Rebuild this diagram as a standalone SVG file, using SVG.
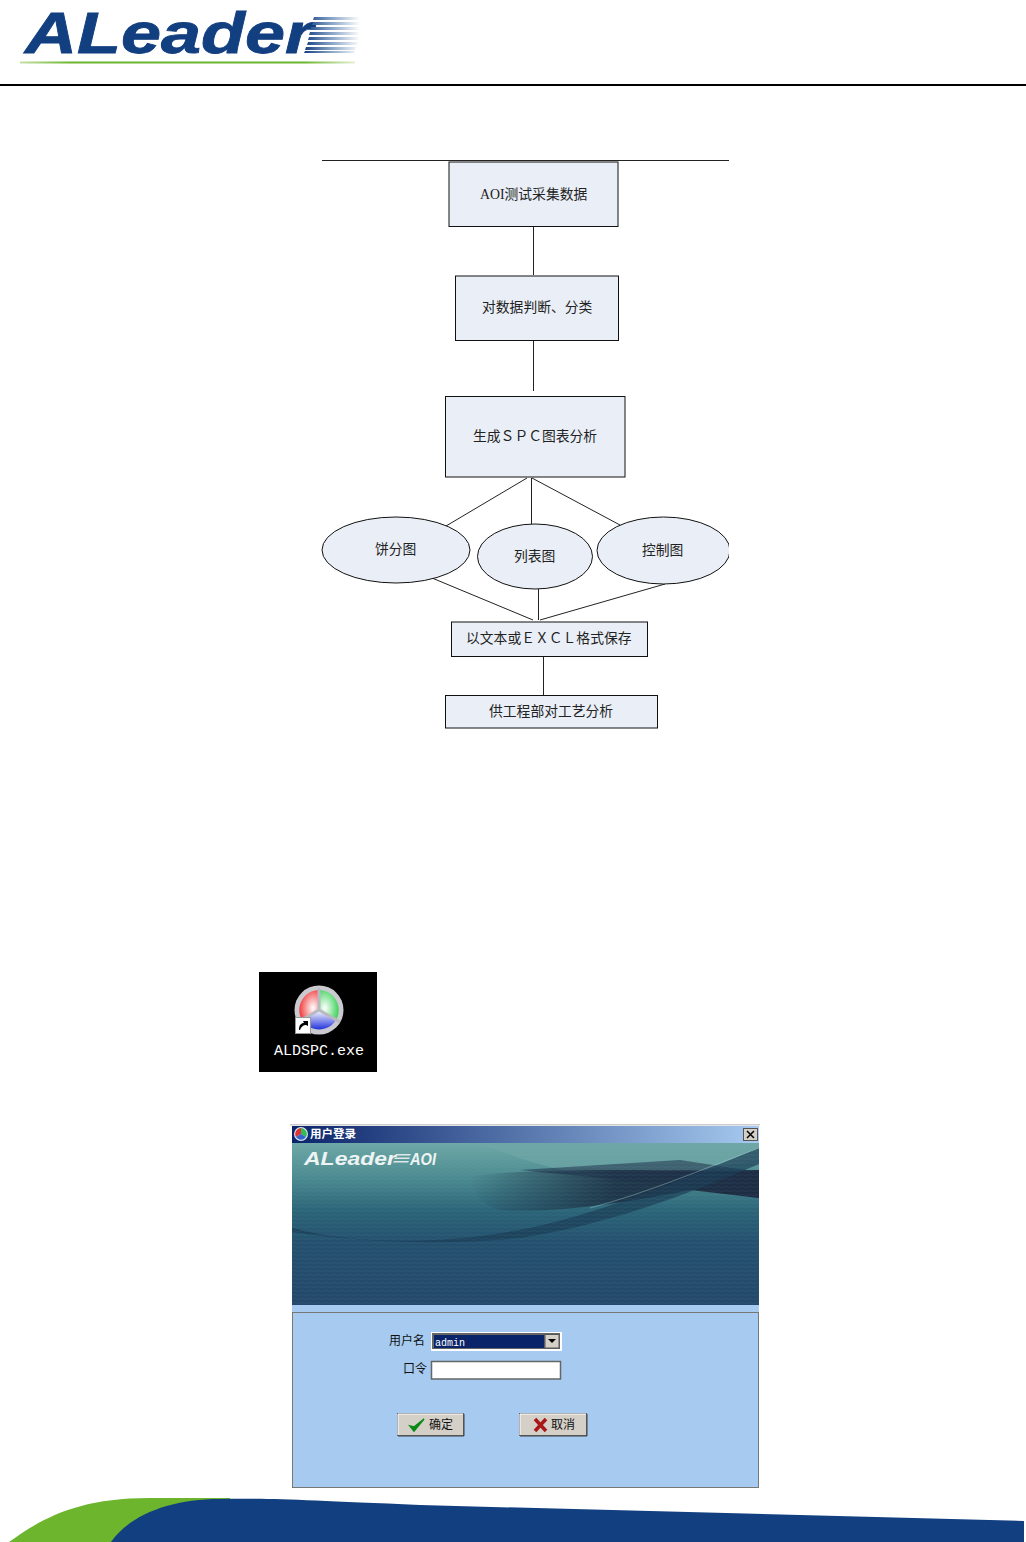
<svg xmlns="http://www.w3.org/2000/svg" width="1026" height="1542" viewBox="0 0 1026 1542">
<style>
.n{fill:#eaeff7;stroke:#111;stroke-width:1}
.c{fill:none;stroke:#222;stroke-width:1}
.t{font-family:"Liberation Serif","Noto Sans CJK SC",serif;font-size:13.8px;fill:#222}
.f{font-family:"Noto Sans CJK SC",sans-serif;font-size:12px;fill:#111}
.b{fill:#d4d0c8;stroke:#666;stroke-width:1}
.hi{fill:none;stroke:#fff;stroke-width:1}
.lo{fill:none;stroke:#404040;stroke-width:1}
</style>
<defs>
<linearGradient id="speed" x1="0" x2="1" y1="0" y2="0"><stop offset="0" stop-color="#123f80"/><stop offset="0.45" stop-color="#7f9cc2"/><stop offset="1" stop-color="#fff"/></linearGradient>
<linearGradient id="grn" x1="0" x2="1" y1="0" y2="0"><stop offset="0" stop-color="#c6e0a8"/><stop offset="0.15" stop-color="#6cb52d"/><stop offset="0.85" stop-color="#6cb52d"/><stop offset="1" stop-color="#e4f0d4"/></linearGradient>
<linearGradient id="title" x1="0" x2="1" y1="0" y2="0"><stop offset="0" stop-color="#0a246a"/><stop offset="1" stop-color="#a6caf0"/></linearGradient>
<linearGradient id="sky" x1="0" x2="0" y1="0" y2="1"><stop offset="0" stop-color="#6fa8a6"/><stop offset="0.22" stop-color="#4a8a90"/><stop offset="0.42" stop-color="#2b6478"/><stop offset="0.62" stop-color="#24506e"/><stop offset="1" stop-color="#24486a"/></linearGradient>
<linearGradient id="dark" x1="0" x2="1" y1="0" y2="0"><stop offset="0" stop-color="#1c3044" stop-opacity="0"/><stop offset="0.5" stop-color="#1c3044" stop-opacity=".9"/><stop offset="1" stop-color="#1d2a3e"/></linearGradient>
<radialGradient id="r" cx=".7" cy=".6" r=".8"><stop offset="0" stop-color="#fff"/><stop offset="1" stop-color="#e22"/></radialGradient>
<radialGradient id="g" cx=".3" cy=".6" r=".8"><stop offset="0" stop-color="#fff"/><stop offset="1" stop-color="#2c4"/></radialGradient>
<linearGradient id="bl" x1="0" x2="0" y1="0" y2="1"><stop offset="0" stop-color="#fff"/><stop offset="1" stop-color="#23d"/></linearGradient>
<pattern id="hatch" width="8" height="4" patternUnits="userSpaceOnUse"><path d="M0 3.500L8 2.500" stroke="#7fb0b8" stroke-opacity=".09" stroke-width="1"/></pattern>
<clipPath id="bannerClip"><rect x="292" y="1143" width="467" height="162"/></clipPath>
<clipPath id="ellClip"><rect x="590" y="510" width="139" height="80"/></clipPath>
</defs>
<rect width="1026" height="1542" fill="#fff"/>

<g id="header-logo">
<text x="25" y="53" font-family="Liberation Sans,sans-serif" font-weight="700" font-style="italic" font-size="58" fill="#123f80" stroke="#123f80" stroke-width=".8" textLength="288" lengthAdjust="spacingAndGlyphs">ALeader</text>
<path fill="url(#speed)" d="M314 17h46l-1 3h-46zM313 22h47l-1 3h-47zM311 27h49l-1 3h-49zM310 32h50l-1 3h-50zM309 37h50l-1 3h-50zM308 42h50l-1 3h-50zM306 47h50l-1 3h-50zM305 51h50l-1 2h-50z"/>
<rect x="20" y="61.500" width="335" height="2" fill="url(#grn)"/>
<rect x="0" y="84" width="1026" height="2" fill="#000"/>
</g>

<g id="connectors">
<path class="c" d="M322 160.500H729M533.500 226V275M533.500 340V391M527 478L446 526M531.500 478V524M532 478L620 525M432 578L533 620M538.500 589V620M665 584L540 620M543.500 656V695"/>
</g>

<g id="n1"><rect class="n" x="449" y="162" width="169" height="64.500"/><text class="t" x="480" y="199">AOI测试采集数据</text></g>
<g id="n2"><rect class="n" x="455.500" y="276" width="163" height="64.500"/><text class="t" x="482" y="312">对数据判断、分类</text></g>
<g id="n3"><rect class="n" x="445.500" y="396.500" width="179.500" height="80.500"/><text class="t" x="473" y="441">生成ＳＰＣ图表分析</text></g>
<g id="e1"><ellipse class="n" cx="396" cy="550" rx="74" ry="33"/><text class="t" x="375" y="554">饼分图</text></g>
<g id="e2"><ellipse class="n" cx="535" cy="556.500" rx="57.500" ry="32.500"/><text class="t" x="514" y="561">列表图</text></g>
<g id="e3"><ellipse class="n" cx="663.500" cy="550.500" rx="66.500" ry="33.500" clip-path="url(#ellClip)"/><text class="t" x="642" y="555">控制图</text></g>
<g id="n4"><rect class="n" x="451.500" y="622" width="196" height="34.500"/><text class="t" x="466" y="643">以文本或ＥＸＣＬ格式保存</text></g>
<g id="n5"><rect class="n" x="445.500" y="695.500" width="212" height="32.500"/><text class="t" x="489" y="716">供工程部对工艺分析</text></g>

<g id="app-icon">
<rect x="259" y="972" width="118" height="100" fill="#000"/>
<circle cx="319" cy="1010" r="24.500" fill="#c9c9cf"/>
<path fill="url(#r)" d="M319 1010V990A20 20 0 0 0 302 1020Z"/>
<path fill="url(#g)" d="M319 1010V990A20 20 0 0 1 336 1020Z"/>
<path fill="url(#bl)" d="M319 1010L336 1020A20 20 0 0 1 302 1020Z"/>
<path d="M319 988V1010L298 1022M319 1010L340 1022" fill="none" stroke="#b9b9c0" stroke-width="3"/>
<rect x="295.500" y="1017.500" width="15" height="16" fill="#fff" stroke="#999" stroke-width="1"/>
<path d="M299 1030C299 1025 301 1023 304 1023L303 1021H308V1026L306 1025C303 1025 301 1027 300 1030Z" fill="#000"/>
<text x="274" y="1055" font-family="Liberation Mono,monospace" font-size="15" fill="#fff" textLength="90" lengthAdjust="spacingAndGlyphs">ALDSPC.exe</text>
</g>

<g id="login-dialog">
<rect x="290" y="1124" width="470" height="1.500" fill="#ccc"/>
<rect x="292" y="1126" width="467" height="17" fill="url(#title)"/>
<circle cx="301" cy="1134" r="7" fill="#dfe3ee"/>
<path d="M301 1134V1128A6 6 0 0 0 296 1137Z" fill="#d33"/><path d="M301 1134V1128A6 6 0 0 1 306 1137Z" fill="#3b5"/><path d="M301 1134L306 1137A6 6 0 0 1 296 1137Z" fill="#36c"/>
<text x="310" y="1138" font-family="Noto Sans CJK SC,sans-serif" font-size="11.500" font-weight="700" fill="#fff">用户登录</text>
<rect x="743.500" y="1128.500" width="14" height="12" fill="#d4d0c8" stroke="#555"/>
<path d="M747 1131L754 1138M754 1131L747 1138" stroke="#000" stroke-width="1.500"/>
<rect x="292" y="1143" width="467" height="162" fill="url(#sky)"/>
<g clip-path="url(#bannerClip)">
<path d="M480 1143H759V1160C700 1172 640 1178 600 1176C560 1172 520 1160 480 1143Z" fill="#6fa6a6" opacity=".75"/>
<path d="M470 1176C560 1166 660 1172 759 1170V1198L690 1190C640 1200 560 1214 500 1210C480 1205 470 1190 470 1176Z" fill="url(#dark)"/>
<path d="M520 1170C600 1178 680 1184 759 1198L759 1172L680 1160L600 1165Z" fill="#1d3048" opacity=".55"/>
<path d="M292 1228C360 1246 450 1244 530 1228C610 1210 680 1180 759 1148V1164C680 1198 600 1226 520 1238C440 1246 360 1242 292 1232Z" fill="#1b3d56" opacity=".7"/>
<path d="M590 1208C650 1192 700 1170 759 1148" fill="none" stroke="#9cc" stroke-width="1" opacity=".45"/>
<path d="M292 1143H759V1305H292Z" fill="url(#hatch)"/>
</g>
<text x="304" y="1165" font-family="Liberation Sans,sans-serif" font-style="italic" font-weight="700" font-size="19" fill="#eef4f4" textLength="92" lengthAdjust="spacingAndGlyphs">ALeader</text>
<path fill="#dfe9e9" d="M396 1154h15l-1 1.500h-15zM395 1157.500h15l-1 1.500h-15zM394 1161h15l-1 1.500h-15z"/>
<text x="410" y="1165" font-family="Liberation Sans,sans-serif" font-style="italic" font-weight="700" font-size="16" fill="#eef4f4" textLength="26" lengthAdjust="spacingAndGlyphs">AOI</text>
<rect x="292" y="1305" width="467" height="7" fill="#a6caf0"/>
<rect x="292.500" y="1312.500" width="466" height="175" fill="#a6caf0" stroke="#777"/>
<text class="f" x="389" y="1345">用户名</text>
<rect x="431.500" y="1332.500" width="130" height="18" fill="#fff" stroke="#fff"/>
<rect x="432" y="1333" width="128" height="16" fill="#666"/>
<rect x="434" y="1335" width="110" height="13" fill="#0a246a"/>
<text x="435" y="1345.500" font-family="Liberation Mono,monospace" font-size="10" fill="#fff">admin</text>
<rect x="545" y="1334.500" width="14" height="13.500" fill="#d4d0c8" stroke="#555"/>
<path d="M548 1339H556L552 1343Z" fill="#000"/>
<text class="f" x="403" y="1373">口令</text>
<rect x="431.500" y="1361.500" width="129" height="17.500" fill="#fff" stroke="#666" stroke-width="1.500"/>
<rect class="b" x="397.500" y="1413.500" width="66" height="22"/>
<path class="hi" d="M398 1435V1414H463"/><path class="lo" d="M398 1436H464V1414"/>
<path d="M410 1426L414 1431L424 1419L414 1427Z" fill="#0a8a14" stroke="#0a8a14" stroke-width="1.500"/>
<text class="f" x="429" y="1429">确定</text>
<rect class="b" x="519.500" y="1413.500" width="67" height="22"/>
<path class="hi" d="M520 1435V1414H586"/><path class="lo" d="M520 1436H587V1414"/>
<path d="M535 1419L546 1431M546 1419L535 1431" stroke="#a81818" stroke-width="3.500"/>
<text class="f" x="551" y="1429">取消</text>
</g>

<g id="footer">
<path d="M9 1542C40 1520 75 1498 150 1498H230V1542Z" fill="#6cb52d"/>
<path d="M111 1542C130 1515 170 1499 220 1499C270 1498 300 1500 420 1505L1024 1521V1542Z" fill="#123f80"/>
</g>
</svg>
